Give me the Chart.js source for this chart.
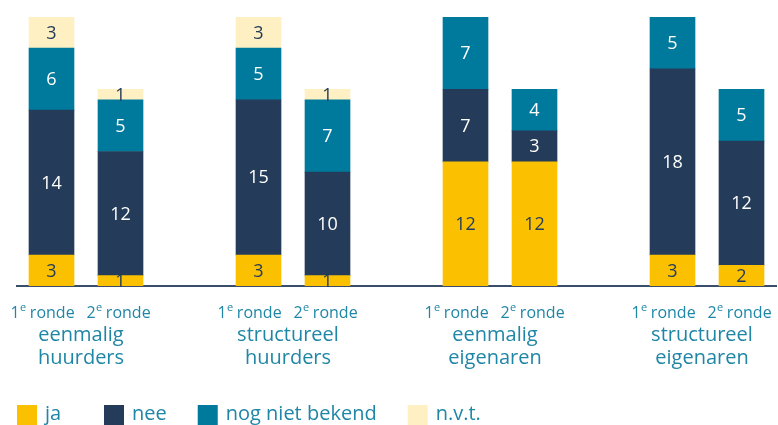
<!DOCTYPE html>
<html>
<head>
<meta charset="utf-8">
<script src="https://cdn.jsdelivr.net/npm/chart.js@4"></script>
<style>
  html, body { margin: 0; padding: 0; background: #fff; }
  #wrap { width: 778px; height: 425px; position: relative; }
</style>
</head>
<body>
<div id="wrap"><canvas id="myChart"></canvas></div>
<script>
let groups = [
  ["eenmalig", "huurders"],
  ["structureel", "huurders"],
  ["eenmalig", "eigenaren"],
  ["structureel", "eigenaren"],
];
let rounds = ["1", "2"]; // drawn as 1e ronde / 2e ronde

// per bar: g1 r1, g1 r2, g2 r1, ...
let ja = [3, 1, 3, 1, 12, 12, 3, 2];
let nee = [14, 12, 15, 10, 7, 3, 18, 12];
let nogNietBekend = [6, 5, 5, 7, 7, 4, 5, 5];
let nvt = [3, 1, 3, 1, 0, 0, 0, 0];

let seriesNames = ["ja", "nee", "nog niet bekend", "n.v.t."];
let colors = ["#FBC100", "#243C59", "#007A9C", "#FEF0C2"];
let labelColors = ["#243C59", "#ffffff", "#ffffff", "#243C59"];
let textColor = "#1F86A6";
let font = "'Open Sans', sans-serif";

// an empty slot between the groups
function pad(arr) {
  let out = [];
  arr.forEach((v, i) => {
    out.push(v);
    if (i % 2 == 1 && i < arr.length - 1) out.push(null);
  });
  return out;
}

let slots = pad(ja.map((v, i) => "b" + i));

let data = {
  labels: slots.map((s) => (s == null ? "" : s)),
  datasets: [ja, nee, nogNietBekend, nvt].map((arr, k) => ({
    label: seriesNames[k],
    data: pad(arr),
    backgroundColor: colors[k],
    barThickness: 45,
  })),
};

const drawExtras = {
  id: "drawExtras",
  afterDatasetsDraw(chart) {
    const ctx = chart.ctx;
    const xs = chart.scales.x;
    ctx.save();
    ctx.textAlign = "center";
    ctx.textBaseline = "middle";

    // values inside the segments
    ctx.font = "18px " + font;
    chart.data.datasets.forEach((ds, k) => {
      const meta = chart.getDatasetMeta(k);
      meta.data.forEach((el, i) => {
        const v = ds.data[i];
        if (!v) return;
        ctx.fillStyle = labelColors[k];
        ctx.fillText(String(v), el.x, (el.y + el.base) / 2 + 1);
      });
    });

    // round labels and group labels
    ctx.fillStyle = textColor;
    let barIdx = slots.map((s, i) => (s == null ? -1 : i)).filter((i) => i >= 0);
    barIdx.forEach((slot, b) => {
      const r = b % 2;
      const cx = xs.getPixelForValue(slot) + (r == 0 ? -9 : -2);
      const y = 313;
      ctx.font = "16px " + font;
      const w1 = ctx.measureText(rounds[r]).width;
      const w3 = ctx.measureText(" ronde").width;
      ctx.font = "11px " + font;
      const w2 = ctx.measureText("e").width;
      let x = cx - (w1 + w2 + w3) / 2;
      ctx.textAlign = "left";
      ctx.font = "16px " + font;
      ctx.fillText(rounds[r], x, y);
      ctx.font = "11px " + font;
      ctx.fillText("e", x + w1 + 0.5, y - 5);
      ctx.font = "16px " + font;
      ctx.fillText(" ronde", x + w1 + w2, y);
      ctx.textAlign = "center";
    });
    groups.forEach((g, gi) => {
      const x0 = xs.getPixelForValue(barIdx[gi * 2]);
      const x1 = xs.getPixelForValue(barIdx[gi * 2 + 1]);
      const cx = (x0 + x1) / 2 - 5;
      ctx.font = "20px " + font;
      ctx.fillText(g[0], cx, 335);
      ctx.fillText(g[1], cx, 358);
    });

    // legend
    let lx = 17;
    ctx.textAlign = "left";
    ctx.font = "20px " + font;
    chart.data.datasets.forEach((ds, k) => {
      ctx.fillStyle = ds.backgroundColor;
      ctx.fillRect(lx, 405, 20, 20);
      ctx.fillStyle = textColor;
      ctx.fillText(ds.label, lx + 28, 414);
      lx = lx + 28 + Math.max(ctx.measureText(ds.label).width, 28) + 31;
    });
    ctx.restore();
  },
};

let promisedDeliveryChart = new Chart(document.getElementById("myChart"), {
  type: "bar",
  data: data,
  options: {
    responsive: true,
    maintainAspectRatio: false,
    animation: false,
    layout: { padding: { left: 17, right: 2, top: 17, bottom: 131 } },
    plugins: { legend: { display: false }, tooltip: { enabled: false } },
    scales: {
      x: {
        stacked: true,
        grid: { display: false },
        ticks: { display: false },
        border: { display: true, color: "#3A4E6B", width: 2 },
      },
      y: {
        stacked: true,
        display: false,
        min: 0,
        max: 26,
      },
    },
  },
  plugins: [drawExtras],
});
</script>
</body>
</html>
